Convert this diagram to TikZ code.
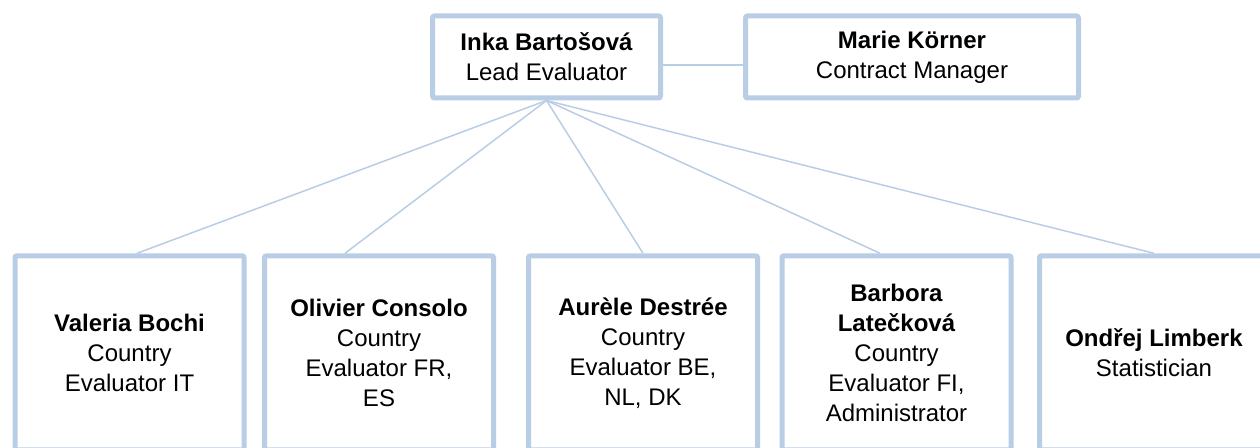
\documentclass[tikz,border=0pt]{standalone}
\usepackage{fontspec}
\setmainfont{Liberation Sans}
\usetikzlibrary{positioning}
\definecolor{frame}{RGB}{185,205,229}

\begin{document}
\begin{tikzpicture}[node distance = 40pt, auto]
  \tikzstyle{person} = [rectangle, draw=frame, line width=2.5pt, fill=white, text=black,
      align=center, rounded corners=1pt, font=\fontsize{12}{15}\selectfont, inner sep=0pt]
  \tikzstyle{lead} = [person, minimum height=41pt]
  \tikzstyle{member} = [person, minimum width=114.5pt, minimum height=97pt]
  \tikzstyle{line} = [draw=frame, line width=0.75pt]
  \useasboundingbox (0,0) rectangle (630pt,224pt);
      % Place nodes
      \node [lead, minimum width=114pt] (inka) at (273.25pt,195.5pt) {\textbf{Inka Bartošová}\\Lead Evaluator};
      \node [lead, minimum width=166.5pt, right=of inka] (marie) {\textbf{Marie Körner}\\Contract Manager};
      \node [member] (valeria) at (64.75pt,47.6pt) {\textbf{Valeria Bochi}\\Country\\Evaluator IT};
      \node [member, right=7.75pt of valeria] (olivier) {\textbf{Olivier Consolo}\\Country\\Evaluator FR,\\ES};
      \node [member, right=15pt of olivier] (aurele) {\textbf{Aurèle Destrée}\\Country\\Evaluator BE,\\NL, DK};
      \node [member, right=9.75pt of aurele] (barbora) {\textbf{Barbora}\\\textbf{Latečková}\\Country\\Evaluator FI,\\Administrator};
      \node [member, right=11.75pt of barbora] (ondrej) {\textbf{Ondřej Limberk}\\Statistician};

  %paths
      \path [line] ([yshift=-4pt]inka.east) -- ([yshift=-4pt]marie.west);
      \path [line] (inka.south) -- ([xshift=3.75pt]valeria.north);
      \path [line] (inka.south) -- ([xshift=-17pt]olivier.north);
      \path [line] (inka.south) -- (aurele.north);
      \path [line] (inka.south) -- ([xshift=-8.25pt]barbora.north);
      \path [line] (inka.south) -- (ondrej.north);

\end{tikzpicture}
\end{document}
